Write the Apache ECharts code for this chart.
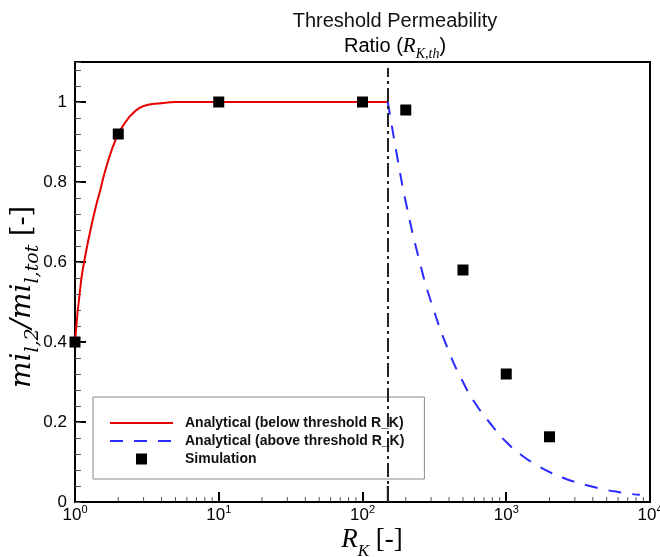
<!DOCTYPE html>
<html>
<head>
<meta charset="utf-8">
<script src="https://cdn.jsdelivr.net/npm/echarts@6.0.0/dist/echarts.min.js"></script>
<style>
    html, body { margin: 0; padding: 0; background: #fff; }
    #chart { width: 660px; height: 557px; }
</style>
</head>
<body>
<div id="chart"></div>
<script>
// simulation points
var simR = [1, 2, 10, 100, 200, 500, 1000, 2000];
var simVal = [0.40, 0.92, 1.0, 1.0, 0.98, 0.58, 0.32, 0.163];

// analytical curve below threshold
var belowR = [1, 1.1, 1.2, 1.3, 1.4, 1.5, 1.6, 1.8, 2, 2.25, 2.5, 3, 4, 5, 7, 10, 20, 50, 100, 150];
var belowVal = [0.40, 0.55, 0.63, 0.69, 0.74, 0.78, 0.82, 0.88, 0.92, 0.95, 0.97, 0.99, 0.997, 1.0, 1.0, 1.0, 1.0, 1.0, 1.0, 1.0];

// analytical curve above threshold
var aboveR = [150, 175, 200, 250, 300, 400, 500, 600, 800, 1000, 1300, 1600, 2000, 2500, 3000, 4000, 5000, 6000, 7000, 8500];
var aboveVal = [1.0, 0.86, 0.75, 0.60, 0.50, 0.375, 0.30, 0.25, 0.19, 0.15, 0.115, 0.094, 0.075, 0.06, 0.05, 0.038, 0.03, 0.025, 0.021, 0.018];

var thresholdR = 150;
var xMinorTicks = [2, 3, 4, 5, 6, 7, 8, 9, 20, 30, 40, 50, 60, 70, 80, 90,
    200, 300, 400, 500, 600, 700, 800, 900, 2000, 3000, 4000, 5000, 6000, 7000, 8000, 9000];

var legendNames = ['Analytical (below threshold R_K)', 'Analytical (above threshold R_K)', 'Simulation'];

function pairs(xs, ys) {
    var out = [];
    for (var i = 0; i < xs.length; i++) {
        out.push([xs[i], ys[i]]);
    }
    return out;
}

var myChart = echarts.init(document.getElementById('chart'), null, {renderer: 'canvas'});

var tickData = xMinorTicks.map(function (v) { return [v, 0, 0]; });
tickData.push([thresholdR, 0, 1]);

var option = {
    animation: false,
    backgroundColor: '#fff',
    grid: {
        left: 75, right: 10, top: 62, bottom: 55,
        show: true, borderColor: '#000', borderWidth: 2,
        containLabel: false, outerBoundsMode: 'none'
    },
    legend: {
        orient: 'vertical',
        left: 93, top: 397,
        selectedMode: false,
        itemWidth: 63, itemHeight: 11, itemGap: 4,
        padding: [19, 20, 13, 16],
        borderColor: '#888', borderWidth: 1, backgroundColor: '#fff',
        symbolKeepAspect: true,
        textStyle: {fontFamily: 'Liberation Sans', fontWeight: 'bold', fontSize: 14, color: '#111', padding: [0, 0, 0, 7]},
        data: [
            {name: legendNames[0], itemStyle: {opacity: 0}},
            {name: legendNames[1], itemStyle: {opacity: 0}},
            {name: legendNames[2], icon: 'path://M0,0L10,0L10,10L0,10Z', itemStyle: {color: '#000', opacity: 1}}
        ]
    },
    xAxis: {
        type: 'log', logBase: 10, min: 1, max: 10000,
        axisLine: {lineStyle: {color: '#000', width: 2}},
        axisTick: {inside: true, length: 10, lineStyle: {color: '#000', width: 2}},
        minorTick: {show: false},
        splitLine: {show: false},
        axisLabel: {
            margin: 2,
            formatter: function (v) {
                var e = Math.round(Math.log(v) / Math.LN10);
                return '{b|10}{s|' + e + '}';
            },
            rich: {
                b: {fontFamily: 'Liberation Sans', fontSize: 17, color: '#000', lineHeight: 23},
                s: {fontFamily: 'Liberation Sans', fontSize: 11, color: '#000', lineHeight: 23, verticalAlign: 'top'}
            }
        }
    },
    yAxis: [
        {
            type: 'value', min: 0, max: 1.1, interval: 0.2,
            axisLine: {show: true, lineStyle: {color: '#000', width: 2}},
            axisTick: {inside: true, length: 11, lineStyle: {color: '#000', width: 2}},
            splitLine: {show: false},
            axisLabel: {
                showMaxLabel: false, margin: 8,
                fontFamily: 'Liberation Sans', fontSize: 17, color: '#000'
            }
        },
        {
            type: 'value', min: 0, max: 1.1, interval: 0.04, position: 'left',
            axisLine: {show: false},
            axisTick: {inside: true, length: 6, lineStyle: {color: '#555', width: 1}},
            splitLine: {show: false},
            axisLabel: {show: false}
        }
    ],
    graphic: [
        {
            type: 'text', x: 395, y: 21,
            style: {
                text: 'Threshold Permeability', align: 'center', verticalAlign: 'middle',
                font: '20px "Liberation Sans"', fill: '#111'
            }
        },
        {
            type: 'text', x: 395, y: 46,
            style: {
                text: '{n|Ratio (}{i|R}{s|K,th}{n|)}', align: 'center', verticalAlign: 'middle',
                rich: {
                    n: {fontFamily: 'Liberation Sans', fontSize: 20, color: '#111', lineHeight: 30},
                    i: {fontFamily: 'Liberation Serif', fontStyle: 'italic', fontSize: 21, color: '#111', lineHeight: 30},
                    s: {fontFamily: 'Liberation Serif', fontStyle: 'italic', fontSize: 14, color: '#111', lineHeight: 30, verticalAlign: 'bottom'}
                }
            }
        },
        {
            type: 'text', x: 23, y: 297, rotation: Math.PI / 2,
            style: {
                text: '{m|mi}{s|l,2}{m|/mi}{s|l,tot}{n| [-]}', align: 'center', verticalAlign: 'middle',
                rich: {
                    m: {fontFamily: 'DejaVu Serif', fontStyle: 'italic', fontSize: 28, color: '#000', lineHeight: 39},
                    s: {fontFamily: 'DejaVu Serif', fontStyle: 'italic', fontSize: 19, color: '#000', lineHeight: 39, verticalAlign: 'bottom'},
                    n: {fontFamily: 'DejaVu Serif', fontSize: 27, color: '#000', lineHeight: 39}
                }
            }
        },
        {
            type: 'text', x: 372, y: 540,
            style: {
                text: '{r|R}{k|K}{n| [-]}', align: 'center', verticalAlign: 'middle',
                rich: {
                    r: {fontFamily: 'Liberation Serif', fontStyle: 'italic', fontSize: 27, color: '#000', lineHeight: 40},
                    k: {fontFamily: 'Liberation Serif', fontStyle: 'italic', fontSize: 17, color: '#000', lineHeight: 40, verticalAlign: 'bottom'},
                    n: {fontFamily: 'Liberation Serif', fontSize: 27, color: '#000', lineHeight: 40}
                }
            }
        }
    ],
    series: [
        {
            name: legendNames[0],
            type: 'line',
            data: pairs(belowR, belowVal),
            showSymbol: false, symbol: 'none',
            smooth: 0.5,
            lineStyle: {color: '#e60000', width: 2},
            itemStyle: {color: '#e60000'},
            z: 3
        },
        {
            name: legendNames[1],
            type: 'line',
            data: pairs(aboveR, aboveVal),
            showSymbol: false, symbol: 'none',
            smooth: 0.5,
            lineStyle: {color: '#2a2aff', width: 2, type: [13, 11]},
            itemStyle: {color: '#2a2aff'},
            z: 3
        },
        {
            name: legendNames[2],
            type: 'scatter',
            data: pairs(simR, simVal),
            symbol: 'rect', symbolSize: 11,
            itemStyle: {color: '#000', opacity: 1},
            z: 5,
            markLine: {
                silent: true,
                symbol: ['none', 'none'],
                label: {show: false},
                lineStyle: {color: '#222', width: 2, type: [14, 4, 3, 4]},
                data: [[{coord: [thresholdR, 0]}, {coord: [thresholdR, 1.085]}]]
            }
        },
        {
            // minor ticks of the log axis (2..9 in each decade) and the threshold tick
            type: 'custom',
            silent: true,
            data: tickData,
            z: 4,
            renderItem: function (params, api) {
                var p = api.coord([api.value(0), 0]);
                var big = api.value(2) === 1;
                var len = big ? 16 : 5;
                return {
                    type: 'line',
                    shape: {x1: p[0], y1: p[1] - 1, x2: p[0], y2: p[1] - len},
                    style: {stroke: big ? '#000' : '#555', lineWidth: big ? 2 : 1}
                };
            }
        }
    ]
};
myChart.setOption(option);
</script>
</body>
</html>
